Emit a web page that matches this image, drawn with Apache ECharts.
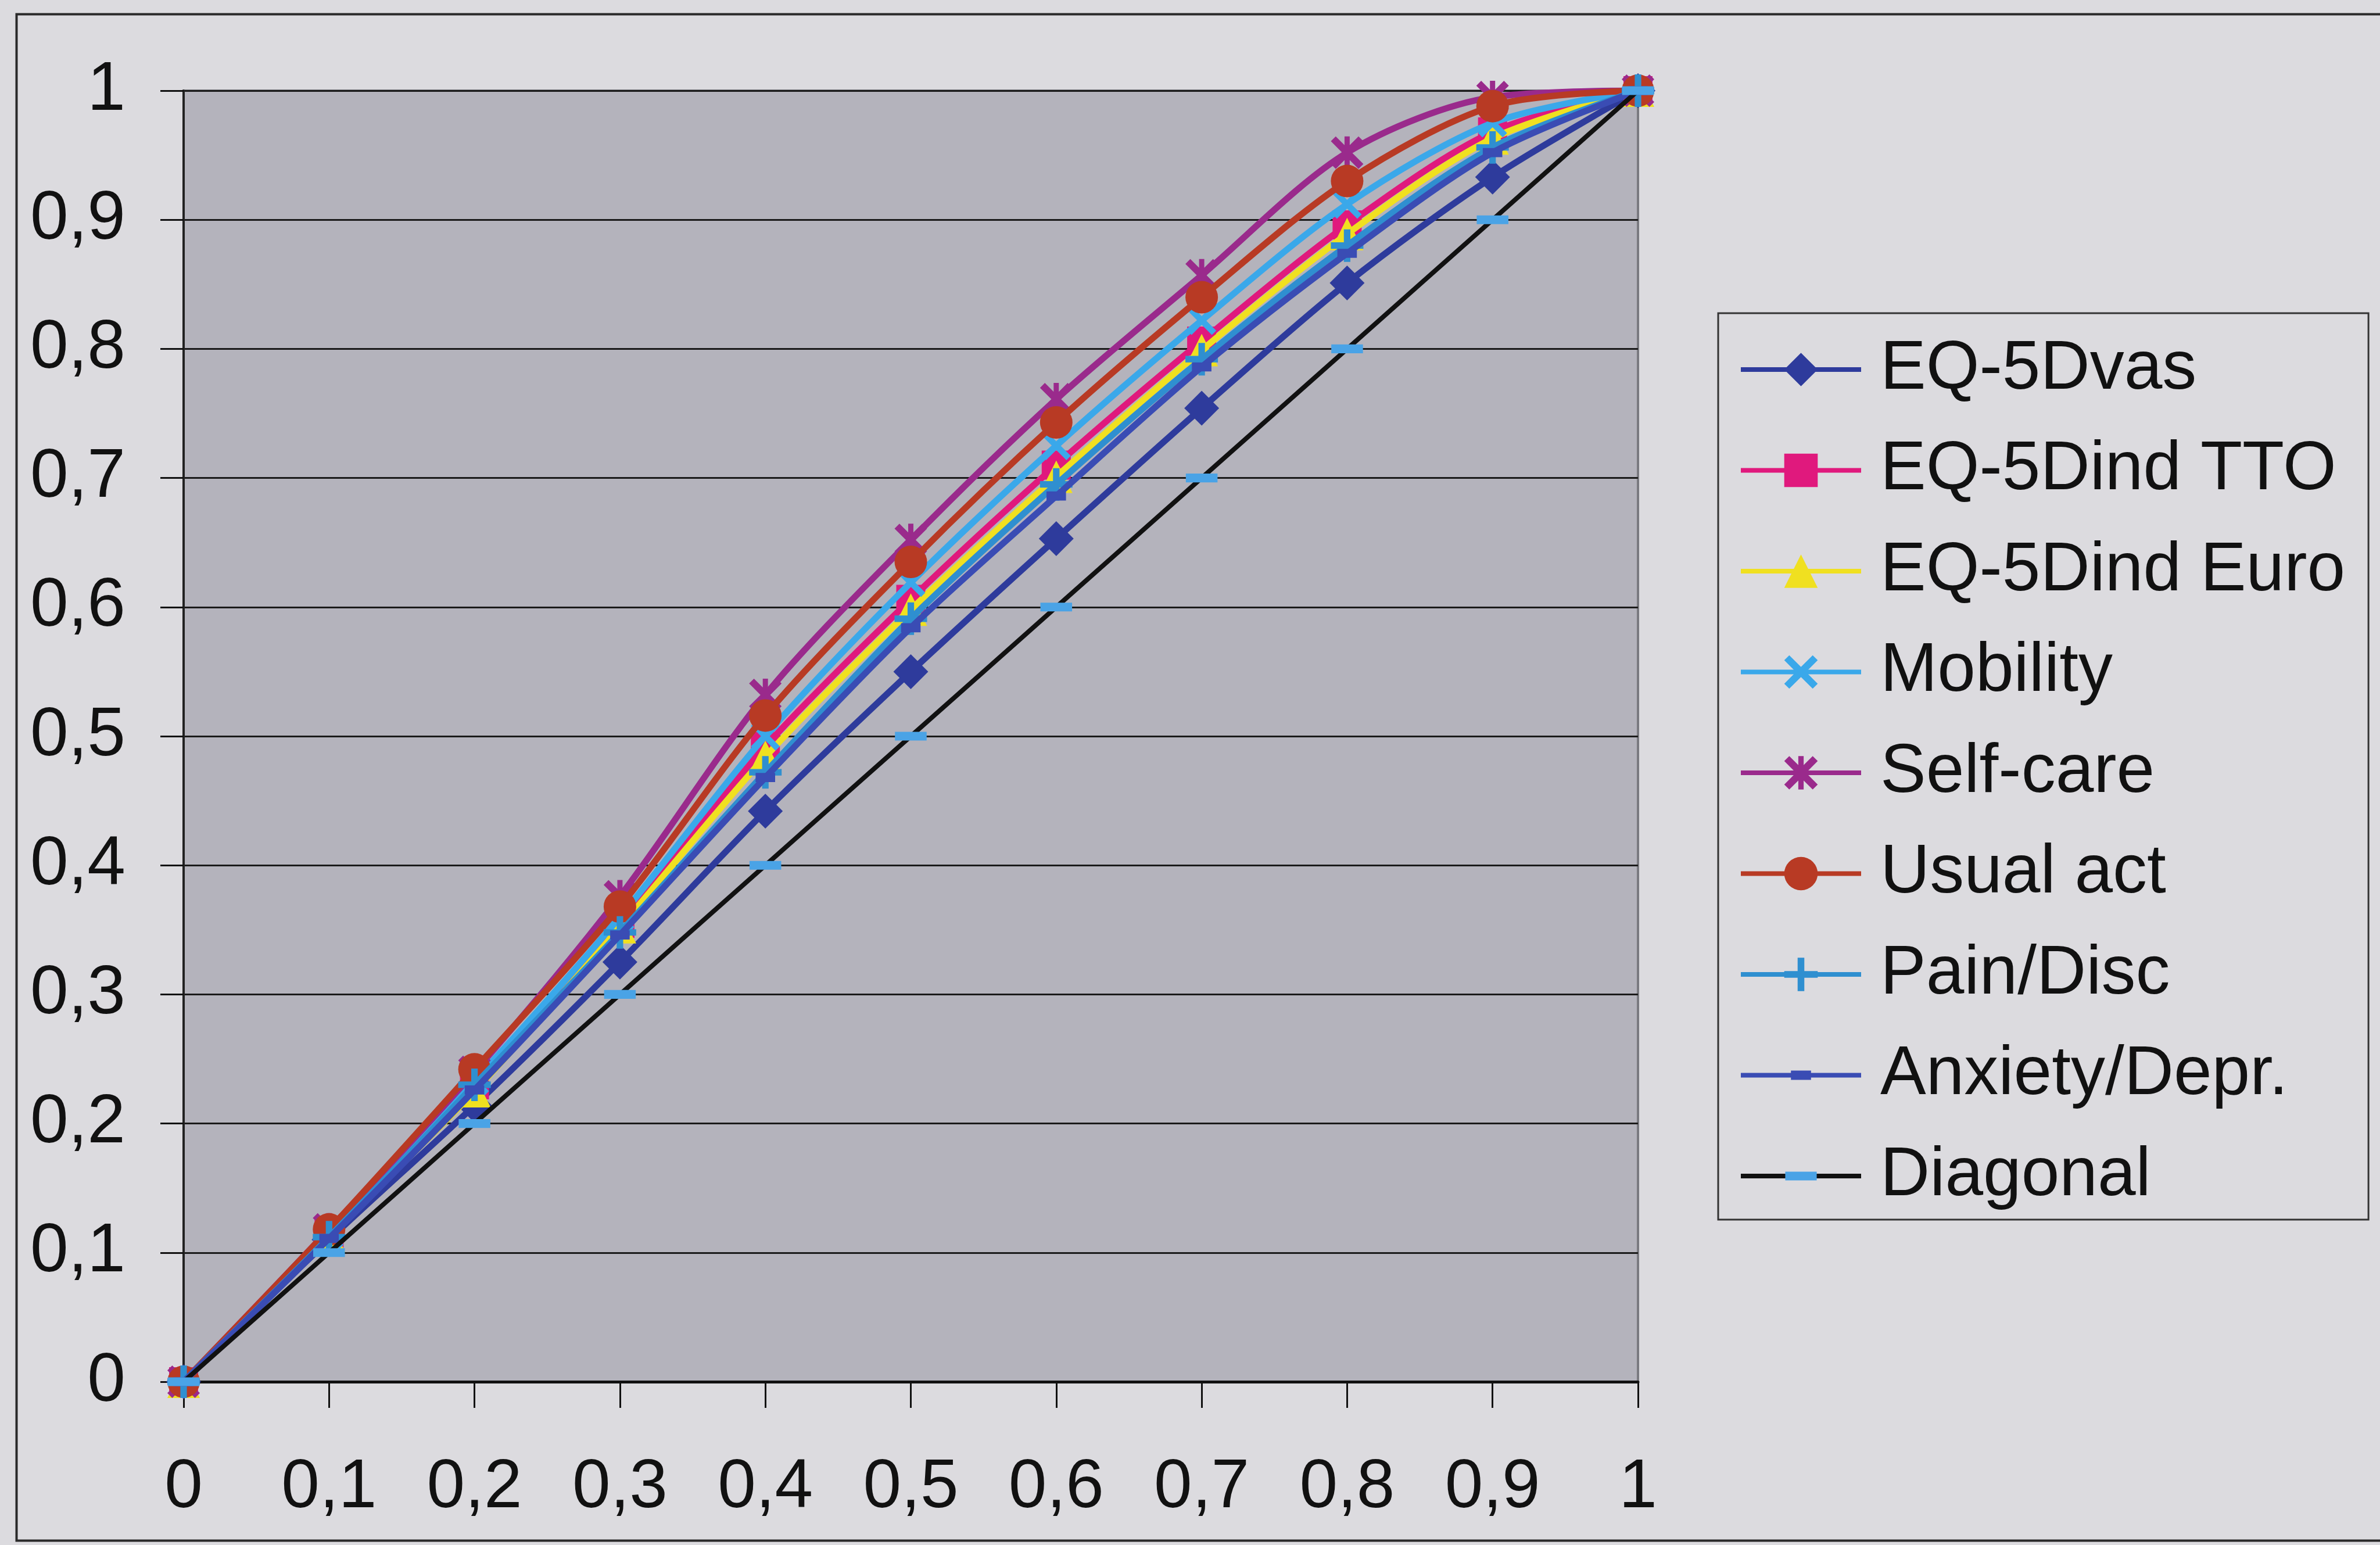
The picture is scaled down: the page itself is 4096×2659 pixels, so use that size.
<!DOCTYPE html>
<html>
<head>
<meta charset="utf-8">
<script src="https://cdn.jsdelivr.net/npm/echarts@6/dist/echarts.min.js"></script>
<style>
  html, body { margin: 0; padding: 0; background: #dcdbdf; }
  #chart { width: 4096px; height: 2659px; }
</style>
</head>
<body>
<div id="chart"></div>
<script>
// ---- data ----
const xValues      = [0, 0.1, 0.2, 0.3, 0.4, 0.5, 0.6, 0.7, 0.8, 0.9, 1];
const eq5dVas      = [0, 0.110, 0.214, 0.325, 0.442, 0.550, 0.653, 0.754, 0.851, 0.933, 1];
const eq5dIndTTO   = [0, 0.115, 0.230, 0.355, 0.492, 0.606, 0.710, 0.806, 0.896, 0.968, 1];
const eq5dIndEuro  = [0, 0.113, 0.225, 0.352, 0.484, 0.598, 0.701, 0.799, 0.889, 0.963, 1];
const mobility     = [0, 0.114, 0.233, 0.360, 0.500, 0.619, 0.725, 0.822, 0.912, 0.975, 1];
const selfCare     = [0, 0.118, 0.240, 0.376, 0.532, 0.652, 0.761, 0.857, 0.952, 0.995, 1];
const usualAct     = [0, 0.118, 0.242, 0.368, 0.516, 0.635, 0.743, 0.840, 0.930, 0.988, 1];
const painDisc     = [0, 0.112, 0.230, 0.348, 0.472, 0.591, 0.695, 0.792, 0.880, 0.956, 1];
const anxietyDepr  = [0, 0.111, 0.226, 0.346, 0.468, 0.584, 0.686, 0.786, 0.874, 0.952, 1];
const diagonal     = [0, 0.1, 0.2, 0.3, 0.4, 0.5, 0.6, 0.7, 0.8, 0.9, 1];
const seriesNames  = ['EQ-5Dvas', 'EQ-5Dind TTO', 'EQ-5Dind Euro', 'Mobility', 'Self-care', 'Usual act', 'Pain/Disc', 'Anxiety/Depr.', 'Diagonal'];
const tickLabels   = ['0', '0,1', '0,2', '0,3', '0,4', '0,5', '0,6', '0,7', '0,8', '0,9', '1'];

// ---- styling ----
const FONT = 'Liberation Sans, Arial, sans-serif';
const PLUS  = 'path://M4,0 H6 V4 H10 V6 H6 V10 H4 V6 H0 V4 H4 Z';
const XMARK = 'path://M0,1.5 L1.5,0 L5,3.5 L8.5,0 L10,1.5 L6.5,5 L10,8.5 L8.5,10 L5,6.5 L1.5,10 L0,8.5 L3.5,5 Z';
const ASTER = 'path://M0,1.5 L1.5,0 L5,3.5 L8.5,0 L10,1.5 L6.5,5 L10,8.5 L8.5,10 L5,6.5 L1.5,10 L0,8.5 L3.5,5 Z M4.2,0 H5.8 V10 H4.2 Z';
// dash markers inside a square 10x10 box (the empty moves keep the box square)
const DASH_SMALL = 'path://M0,0 M2,3.6 H8 V6.4 H2 Z M10,10';
const DASH_WIDE  = 'path://M0,0 M0.3,3.7 H9.7 V6.3 H0.3 Z M10,10';

const styles = [
  { data: eq5dVas,     color: '#2e3b9c', symbol: 'diamond',  size: 60 },
  { data: eq5dIndTTO,  color: '#e0197d', symbol: 'rect',     size: 50 },
  { data: eq5dIndEuro, color: '#f0e020', symbol: 'triangle', size: 56 },
  { data: mobility,    color: '#3aa8ea', symbol: XMARK,      size: 50 },
  { data: selfCare,    color: '#9a2a8c', symbol: ASTER,      size: 56 },
  { data: usualAct,    color: '#b83a24', symbol: 'circle',   size: 56 },
  { data: painDisc,    color: '#2f8fd0', symbol: PLUS,       size: 56 },
  { data: anxietyDepr, color: '#3a4cb4', symbol: DASH_SMALL, size: 56 },
  { data: diagonal,    color: '#111111', symbol: DASH_WIDE,  size: 58, markerColor: '#4aa3e6' }
];

const series = styles.map((s, i) => ({
  name: seriesNames[i],
  type: 'line',
  smooth: 0.3,
  data: xValues.map((x, k) => [x, s.data[k]]),
  symbol: s.symbol,
  symbolSize: s.size,
  showAllSymbol: true,
  lineStyle: { color: s.color, width: i === 8 ? 8 : 11 },
  itemStyle: { color: s.markerColor || s.color, opacity: 1 },
  z: 2 + i
}));

const chart = echarts.init(document.getElementById('chart'), null, { renderer: 'canvas' });
chart.setOption({
  animation: false,
  backgroundColor: '#dcdbdf',
  textStyle: { fontFamily: FONT },
  graphic: [{
    type: 'rect',
    left: 26, top: 22,
    shape: { width: 5000, height: 2627 },
    style: { fill: 'none', stroke: '#2a2a2a', lineWidth: 4 },
    silent: true, z: -1
  }],
  grid: {
    left: 316, right: 1277, top: 156, bottom: 281,
    show: true,
    backgroundColor: '#b4b3bc',
    borderColor: '#7a7a80',
    borderWidth: 4
  },
  xAxis: {
    type: 'value', min: 0, max: 1, interval: 0.1,
    axisLine: { show: true, onZero: false, lineStyle: { color: '#111', width: 5 } },
    axisTick: { show: true, inside: false, length: 45, lineStyle: { color: '#111', width: 3 } },
    splitLine: { show: false },
    axisLabel: {
      margin: 124, fontSize: 118, color: '#111', fontFamily: FONT,
      formatter: (v) => tickLabels[Math.round(v * 10)]
    }
  },
  yAxis: {
    type: 'value', min: 0, max: 1, interval: 0.1,
    axisLine: { show: true, onZero: false, lineStyle: { color: '#222', width: 4 } },
    axisTick: { show: true, inside: false, length: 40, lineStyle: { color: '#111', width: 3 } },
    splitLine: { show: true, lineStyle: { color: '#1a1a1a', width: 3 } },
    axisLabel: {
      margin: 100, fontSize: 118, color: '#111', fontFamily: FONT,
      formatter: (v) => tickLabels[Math.round(v * 10)]
    }
  },
  legend: {
    orient: 'vertical',
    left: 2957, top: 539,
    width: 1111,
    backgroundColor: '#dcdbdf',
    borderColor: '#333',
    borderWidth: 3,
    padding: [36, 40, 14, 35],
    itemWidth: 207,
    itemHeight: 72,
    itemGap: 51.5,
    lineStyle: { width: 8 },
    textStyle: { fontSize: 118, lineHeight: 122, color: '#111', fontFamily: FONT, padding: [0, 0, 0, 28] },
    data: seriesNames
  },
  series: series
});
</script>
</body>
</html>
